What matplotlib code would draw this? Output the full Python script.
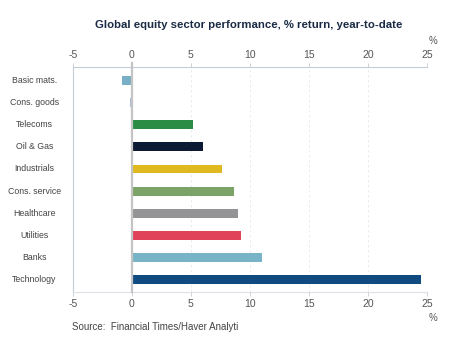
import matplotlib.pyplot as plt
import matplotlib.transforms as mtransforms

# Sector returns, % year-to-date
sectors = ["Basic mats.", "Cons. goods", "Telecoms", "Oil & Gas", "Industrials",
           "Cons. service", "Healthcare", "Utilities", "Banks", "Technology"]
returns = [-0.82, -0.12, 5.17, 5.99, 7.63, 8.67, 9.0, 9.26, 10.99, 24.46]
colors = ["#78afc7", "#a9bfd6", "#2a8c45", "#0d1a33", "#e0b820",
          "#7ba367", "#949497", "#e0425a", "#78b3c8", "#0f4a80"]
x_ticks = [-5, 0, 5, 10, 15, 20, 25]

plt.rcParams['font.family'] = ['Liberation Sans', 'DejaVu Sans']

fig = plt.figure(figsize=(4.51, 3.38), dpi=100)
W, H = 451, 338
left, right, top, bottom = 72.7, 427.3, 67, 292
ax = fig.add_axes([left / W, 1 - bottom / H, (right - left) / W, (bottom - top) / H])

ypos = list(range(len(sectors)))
ax.barh(ypos, returns, height=0.4, color=colors, zorder=3)

ax.set_xlim(-5, 25)
ax.set_ylim(len(sectors) - 0.45, -0.6)

# dashed vertical grid
for t in x_ticks[1:]:
    ax.axvline(t, color="#e6e8ec", lw=0.6, ls=(0, (3, 3)), zorder=1)
ax.axvline(0, color="#c4c4c4", lw=1.6, zorder=4, ymin=0, ymax=1.02, clip_on=False)

ax.spines["right"].set_visible(False)
ax.spines["top"].set_color("#c6ccd6")
ax.spines["bottom"].set_color("#dde1e7")
ax.spines["left"].set_color("#c6ccd6")
for s in ["top", "bottom", "left"]:
    ax.spines[s].set_linewidth(0.8)

ax.set_xticks(x_ticks)
ax.set_xticklabels([str(t) for t in x_ticks])
ax.tick_params(axis="x", which="both", top=True, labeltop=True, bottom=True,
               labelbottom=True, length=3, width=0.6, color="#c6ccd6",
               labelsize=7.5, labelcolor="#555555", pad=2)
ax.set_yticks([])

# category labels centred in the left margin
trans = mtransforms.blended_transform_factory(fig.transFigure, ax.transData)
for i, name in enumerate(sectors):
    fig.text(34.5 / W, i, name, transform=trans, ha="center", va="center",
             fontsize=6.3, color="#444444")

fig.text(249 / W, 1 - 25 / H, "Global equity sector performance, % return, year-to-date",
         ha="center", va="center", fontsize=8.2, fontweight="bold", color="#1a2b45")
fig.text(433 / W, 1 - 41 / H, "%", ha="center", va="center", fontsize=7, color="#555555")
fig.text(433 / W, 1 - 318 / H, "%", ha="center", va="center", fontsize=7, color="#555555")
fig.text(72 / W, 1 - 327 / H, "Source:  Financial Times/Haver Analyti",
         ha="left", va="center", fontsize=7, color="#444444")

fig.savefig("out.png", dpi=100)
